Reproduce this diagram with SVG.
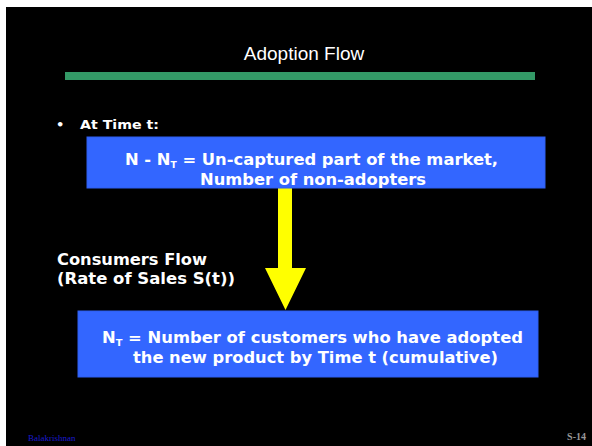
<svg xmlns="http://www.w3.org/2000/svg" width="592" height="446" viewBox="0 0 592 446">
<style>
.bold{font-family:"DejaVu Sans","Liberation Sans",sans-serif;font-weight:bold;fill:#ffffff}
.box{fill:#3366ff;stroke:#2f5ff0;stroke-width:1}
.sub{font-size:9px}
</style>
<rect x="0" y="0" width="592" height="446" fill="#ffffff"/>
<rect x="6" y="7" width="586" height="439" fill="#000000"/>
<g id="title">
<text x="304" y="60" text-anchor="middle" font-family="Liberation Sans, Arial, sans-serif" font-size="19" fill="#ffffff">Adoption Flow</text>
<rect x="65" y="72" width="470" height="8" fill="#339966"/>
</g>
<g id="bullet">
<text x="56" y="129" class="bold" font-size="13">•</text>
<text x="80" y="129" class="bold" font-size="13" textLength="79" lengthAdjust="spacingAndGlyphs">At Time t:</text>
</g>
<g id="connectors">
<polygon points="278,186 292,186 292,268 306,268 285.5,310 265,268 278,268" fill="#ffff00"/>
</g>
<g id="non-adopters">
<rect class="box" x="87" y="137" width="458" height="51"/>
<text x="125" y="165" class="bold" font-size="16" textLength="373" lengthAdjust="spacingAndGlyphs">N - N<tspan class="sub" dy="3">T</tspan><tspan dy="-3"> = Un-captured part of the market,</tspan></text>
<text x="200" y="184.5" class="bold" font-size="16" textLength="226" lengthAdjust="spacingAndGlyphs">Number of non-adopters</text>
</g>
<g id="flow-label">
<text x="57" y="265" class="bold" font-size="16" textLength="150" lengthAdjust="spacingAndGlyphs">Consumers Flow</text>
<text x="57" y="284" class="bold" font-size="16" textLength="178" lengthAdjust="spacingAndGlyphs">(Rate of Sales S(t))</text>
</g>
<g id="adopters">
<rect class="box" x="78" y="311" width="460" height="66"/>
<text x="102" y="343" class="bold" font-size="15" textLength="421" lengthAdjust="spacingAndGlyphs">N<tspan class="sub" dy="3">T</tspan><tspan dy="-3"> = Number of customers who have adopted</tspan></text>
<text x="133" y="363" class="bold" font-size="15" textLength="365" lengthAdjust="spacingAndGlyphs">the new product by Time t (cumulative)</text>
</g>
<g id="footer">
<text x="28" y="441" font-family="Liberation Serif, Times New Roman, serif" font-size="9" fill="#1a1acc">Balakrishnan</text>
<text x="586" y="440" text-anchor="end" font-family="Liberation Serif, Times New Roman, serif" font-size="10" font-weight="bold" fill="#999999">S-14</text>
</g>
</svg>
